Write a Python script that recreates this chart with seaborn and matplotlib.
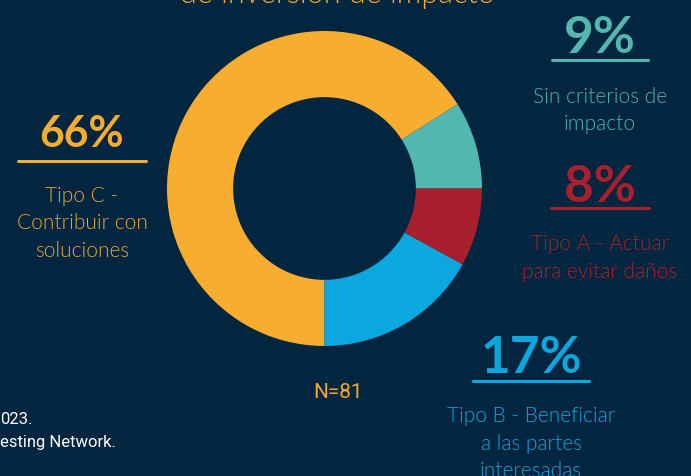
import numpy as np
import pandas as pd
import seaborn as sns
import matplotlib.pyplot as plt

# donut: impact investing types, N=81

categories = ["Sin criterios de impacto", "Tipo C - Contribuir con soluciones",
              "Tipo B - Beneficiar a las partes interesadas", "Tipo A - Actuar para evitar daños"]
shares = [9, 66, 17, 8]
pct_labels = ["9%", "66%", "17%", "8%"]
desc_lines = [["Sin criterios de", "impacto"],
              ["Tipo C -", "Contribuir con", "soluciones"],
              ["Tipo B - Beneficiar", "a las partes", "interesadas"],
              ["Tipo A - Actuar", "para evitar daños"]]
title_text = "de inversión de impacto"
n_text = "N=81"
source_lines = ["023.", "esting Network."]

bg = "#02263f"
palette = sns.color_palette(["#51b7af", "#f7ad2f", "#0ba7df", "#a81f2e"])
text_cols = ["#4fb4ab", "#e9a733", "#1aa0d8", "#a8202e"]

sns.set_style("white", {"axes.facecolor": bg, "figure.facecolor": bg})

W, H = 691, 477
fig = plt.figure(figsize=(W / 100, H / 100), dpi=100)
fig.patch.set_facecolor(bg)


def fx(x):
    return x / W


def fy(y):
    return 1 - y / H


# donut axes, center ~ (324.5, 189), radius ~157.5 px
ax = fig.add_axes([fx(167), fy(347), 315 / W, 315 / H])
ax.set_facecolor(bg)
ax.pie(shares, colors=palette, startangle=0, counterclock=True,
       wedgeprops=dict(width=0.42, edgecolor="none"))
ax.set_xlim(-1, 1)
ax.set_ylim(-1, 1)
ax.set_aspect("equal")
ax.axis("off")

bold_font = ["Lato", "DejaVu Sans"]
light_font = ["Lato", "DejaVu Sans"]
narrow_font = ["Roboto", "DejaVu Sans"]

# label blocks: (center x, pct baseline, pct size, underline y, underline x0, x1, first desc baseline)
blocks = [
    (600, 53, 37, 61, 552, 648, 103),
    (82, 147, 31, 162, 18, 146, 202),
    (531, 373, 37, 382, 473, 589, 422),
    (600, 202, 37, 209, 551, 649, 250),
]

for i, (cx, pb, ps, uy, ux0, ux1, db) in enumerate(blocks):
    col = palette[i]
    fig.text(fx(cx), fy(pb), pct_labels[i], color=col, fontsize=ps,
             fontweight="bold", family=bold_font, ha="center", va="baseline")
    fig.add_artist(plt.Line2D([fx(ux0), fx(ux1)], [fy(uy), fy(uy)],
                              color=col, lw=2.2, transform=fig.transFigure))
    for j, line in enumerate(desc_lines[i]):
        fig.text(fx(cx), fy(db + 27.5 * j), line, color=text_cols[i], fontsize=15,
                 fontweight=300, family=light_font, ha="center", va="baseline")

fig.text(fx(337), fy(3), title_text, color="#f7ad2f", fontsize=22,
         fontweight=300, family=light_font, ha="center", va="baseline")

fig.text(fx(338), fy(398), n_text, color="#f0a830", fontsize=15,
         family=narrow_font, fontstretch="condensed", ha="center", va="baseline")

fig.text(fx(0), fy(424), source_lines[0], color="white", fontsize=12,
         family=narrow_font, fontstretch="condensed", ha="left", va="baseline")
fig.text(fx(0), fy(447), source_lines[1], color="white", fontsize=12,
         family=narrow_font, fontstretch="condensed", ha="left", va="baseline")

plt.savefig("out.png", dpi=100, facecolor=bg)
